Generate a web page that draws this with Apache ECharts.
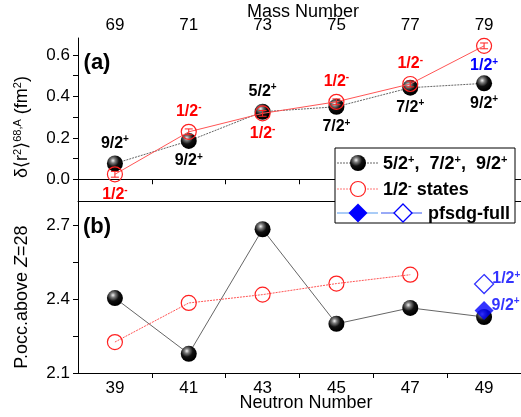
<!DOCTYPE html>
<html>
<head>
<meta charset="utf-8">
<script src="https://cdn.jsdelivr.net/npm/echarts@6/dist/echarts.min.js"></script>
<style>html,body{margin:0;padding:0;background:#fff}#c{width:521px;height:417px}</style>
</head>
<body>
<div id="c"></div>
<script>
// ---- data ----
const massNumber = [69, 71, 73, 75, 77, 79];
const neutronNumber = [39, 41, 43, 45, 47, 49];
const radiusBlack = [0.076, 0.185, 0.326, 0.350, 0.442, 0.463];
const radiusRed = [0.024, 0.229, 0.318, 0.374, 0.460, 0.644];
const radiusRedErr = [0.014, 0.014, 0.014, 0.014, 0.014, 0.014];
const occBlack = [2.405, 2.178, 2.685, 2.300, 2.365, 2.328];
const occRed = [2.226, 2.385, 2.419, 2.464, 2.500];
const occPfsdgFilled = [2.354];
const occPfsdgOpen = [2.462];
const spinBlack = ['9/2', '9/2', '5/2', '7/2', '7/2', '9/2'];
const spinRed = ['1/2', '1/2', '1/2', '1/2', '1/2', '1/2'];
const parityRed = ['-', '-', '-', '-', '-', '+'];
const massTicks = [69, 71, 73, 75, 77, 79];
const neutronTicks = [39, 41, 43, 45, 47, 49];
const yTopLabels = [0.0, 0.2, 0.4, 0.6];
const yBotLabels = [2.1, 2.4, 2.7];

const FONT = '"Liberation Sans", Arial, sans-serif';
const sphere = () => new echarts.graphic.RadialGradient(0.38, 0.32, 0.62, [
  {offset: 0, color: '#f4f4f4'}, {offset: 0.25, color: '#7a7a7a'},
  {offset: 0.6, color: '#111'}, {offset: 1, color: '#000'}]);

function supRich(color, size) {
  return {
    n: {fontFamily: FONT, fontWeight: 'bold', fontSize: size, color: color},
    s: {fontFamily: FONT, fontWeight: 'bold', fontSize: Math.round(size * 0.62), color: color, padding: [0, 0, Math.round(size * 0.5), 0]}
  };
}

const blackTopPos = ['top', 'bottom', 'top', 'bottom', 'bottom', 'bottom'];
const redTopPos = ['bottom', 'top', 'bottom', 'top', 'top', 'bottom'];

const blackTopData = massNumber.map((m, i) => ({
  value: [m, radiusBlack[i]],
  label: {show: true, position: blackTopPos[i], distance: 3,
    formatter: '{n|' + spinBlack[i] + '}{s|+}', rich: supRich('#000', 16)}
}));
const redTopData = massNumber.map((m, i) => {
  const col = parityRed[i] === '+' ? '#0000ff' : '#ff0000';
  return {
    value: [m, radiusRed[i]],
    label: {show: true, position: redTopPos[i], distance: 3,
      formatter: '{n|' + spinRed[i] + '}{s|' + parityRed[i] + '}', rich: supRich(col, 16)}
  };
});
const errData = massNumber.map((m, i) => [m, radiusRed[i], radiusRedErr[i]]);

const axisLineStyle = {show: true, lineStyle: {color: '#000', width: 1}};
const tickStyle = {lineStyle: {color: '#000', width: 1}, length: 5};
const labelStyle = {color: '#000', fontSize: 17, fontFamily: FONT};

const option = {
  animation: false,
  backgroundColor: '#fff',
  grid: [
    {left: 78, top: 38, width: 445, height: 163},
    {left: 78, top: 201, width: 445, height: 172}
  ],
  xAxis: [
    {gridIndex: 0, type: 'value', position: 'top', min: 68, max: 80,
      axisLine: axisLineStyle, splitLine: {show: false},
      axisTick: Object.assign({show: true, inside: true, customValues: [70, 72, 74, 76, 78]}, tickStyle),
      axisLabel: Object.assign({customValues: massTicks, margin: 4}, labelStyle)},
    {gridIndex: 0, type: 'value', position: 'bottom', min: 68, max: 80,
      axisLine: axisLineStyle, splitLine: {show: false}, axisTick: {show: false}, axisLabel: {show: false}},
    {gridIndex: 1, type: 'value', position: 'bottom', min: 38, max: 50,
      axisLine: axisLineStyle, splitLine: {show: false},
      axisTick: Object.assign({show: true, inside: false, customValues: [40, 42, 44, 46, 48]}, tickStyle),
      axisLabel: Object.assign({customValues: neutronTicks, margin: 7}, labelStyle)}
  ],
  yAxis: [
    {gridIndex: 0, type: 'value', min: -0.105, max: 0.682,
      axisLine: axisLineStyle, splitLine: {show: false},
      axisTick: Object.assign({show: true, inside: false, customValues: [0, 0.1, 0.2, 0.3, 0.4, 0.5, 0.6]}, tickStyle),
      axisLabel: Object.assign({customValues: yTopLabels, margin: 8, formatter: v => v.toFixed(1)}, labelStyle)},
    {gridIndex: 1, type: 'value', min: 2.1, max: 2.8,
      axisLine: axisLineStyle, splitLine: {show: false},
      axisTick: Object.assign({show: true, inside: false, customValues: [2.1, 2.25, 2.4, 2.55, 2.7]}, tickStyle),
      axisLabel: Object.assign({customValues: yBotLabels, margin: 8, formatter: v => v.toFixed(1)}, labelStyle)}
  ],
  series: [
    {type: 'line', xAxisIndex: 0, yAxisIndex: 0, data: blackTopData,
      symbol: 'circle', symbolSize: 16, lineStyle: {color: '#666', width: 1, type: [2, 1]},
      itemStyle: {color: sphere(), borderWidth: 0}, z: 3},
    {type: 'line', xAxisIndex: 0, yAxisIndex: 0, data: redTopData,
      symbol: 'circle', symbolSize: 15, lineStyle: {color: '#ff5555', width: 1},
      itemStyle: {color: 'rgba(255,255,255,0)', borderColor: '#ff2020', borderWidth: 1.2}, z: 4},
    {type: 'custom', xAxisIndex: 0, yAxisIndex: 0, data: errData, z: 5,
      renderItem: function (params, api) {
        const x = api.value(0), y = api.value(1), e = api.value(2);
        const a = api.coord([x, y + e]), b = api.coord([x, y - e]);
        const w = 4, st = {stroke: '#ff2020', lineWidth: 1, fill: null};
        return {type: 'group', children: [
          {type: 'line', shape: {x1: a[0], y1: a[1], x2: b[0], y2: b[1]}, style: st},
          {type: 'line', shape: {x1: a[0] - w, y1: a[1], x2: a[0] + w, y2: a[1]}, style: st},
          {type: 'line', shape: {x1: b[0] - w, y1: b[1], x2: b[0] + w, y2: b[1]}, style: st}
        ]};
      }},
    {type: 'line', xAxisIndex: 2, yAxisIndex: 1, data: neutronNumber.map((n, i) => [n, occBlack[i]]),
      symbol: 'circle', symbolSize: 16, lineStyle: {color: '#666', width: 1},
      itemStyle: {color: sphere(), borderWidth: 0}, z: 3},
    {type: 'line', xAxisIndex: 2, yAxisIndex: 1, data: neutronNumber.slice(0, occRed.length).map((n, i) => [n, occRed[i]]),
      symbol: 'circle', symbolSize: 15, lineStyle: {color: '#ff5555', width: 1, type: [2, 1]},
      itemStyle: {color: 'rgba(255,255,255,0)', borderColor: '#ff2020', borderWidth: 1.2}, z: 4},
    {type: 'scatter', xAxisIndex: 2, yAxisIndex: 1, data: [[49, occPfsdgFilled[0]]],
      symbol: 'diamond', symbolSize: [19, 19], itemStyle: {color: '#0000ff'}, z: 5,
      label: {show: true, position: 'right', distance: -2, offset: [0, -5],
        formatter: '{n|9/2}{s|+}', rich: supRich('#0000ff', 16)}},
    {type: 'scatter', xAxisIndex: 2, yAxisIndex: 1, data: [[49, occPfsdgOpen[0]]],
      symbol: 'diamond', symbolSize: [19, 19], itemStyle: {color: 'rgba(255,255,255,0)', borderColor: '#0000ff', borderWidth: 1.3}, z: 5,
      label: {show: true, position: 'right', distance: -2, offset: [0, -5],
        formatter: '{n|1/2}{s|+}', rich: supRich('#0000ff', 16)}}
  ],
  graphic: [
    {type: 'text', x: 303, y: 12, style: {text: 'Mass Number', font: '18px ' + FONT, fill: '#000', align: 'center', verticalAlign: 'middle'}},
    {type: 'text', x: 306, y: 403, style: {text: 'Neutron Number', font: '18px ' + FONT, fill: '#000', align: 'center', verticalAlign: 'middle'}},
    {type: 'text', x: 97, y: 63, style: {text: '(a)', font: 'bold 22px ' + FONT, fill: '#000', align: 'center', verticalAlign: 'middle'}},
    {type: 'text', x: 97, y: 227, style: {text: '(b)', font: 'bold 22px ' + FONT, fill: '#000', align: 'center', verticalAlign: 'middle'}},
    {type: 'text', x: 22, y: 127, rotation: Math.PI / 2,
      style: {text: '{a|δ⟨r}{s|2}{a|⟩}{s|68,A}{a| (fm}{s|2}{a|)}', align: 'center', verticalAlign: 'middle',
        rich: {a: {font: '18px ' + FONT, fill: '#000'}, s: {font: '11px ' + FONT, fill: '#000', padding: [0, 0, 9, 0]}}}},
    {type: 'text', x: 22, y: 297, rotation: Math.PI / 2,
      style: {text: '{a|P.occ.above }{i|Z}{a|=28}', align: 'center', verticalAlign: 'middle',
        rich: {a: {font: '18px ' + FONT, fill: '#000'}, i: {font: 'italic 18px ' + FONT, fill: '#000'}}}},
    // legend
    {type: 'group', z: 100, children: [
      {type: 'rect', shape: {x: 335, y: 148, width: 180, height: 75}, style: {fill: '#fff', stroke: '#000', lineWidth: 1}, z: 100},
      {type: 'line', shape: {x1: 337, y1: 163, x2: 378, y2: 163}, style: {stroke: '#666', lineWidth: 1, lineDash: [2, 1]}, z: 101},
      {type: 'circle', shape: {cx: 358, cy: 163, r: 8}, style: {fill: sphere()}, z: 102},
      {type: 'text', x: 383, y: 164, z: 102, style: {text: '{n|5/2}{s|+}{n|,  7/2}{s|+}{n|,  9/2}{s|+}', verticalAlign: 'middle', rich: {
        n: {font: 'bold 18px ' + FONT, fill: '#000'}, s: {font: 'bold 11px ' + FONT, fill: '#000', padding: [0, 0, 9, 0]}}}},
      {type: 'line', shape: {x1: 337, y1: 189, x2: 378, y2: 189}, style: {stroke: '#ff7777', lineWidth: 1, lineDash: [2, 1]}, z: 101},
      {type: 'circle', shape: {cx: 358, cy: 189, r: 7.5}, style: {fill: '#fff', stroke: '#ff2020', lineWidth: 1.2}, z: 102},
      {type: 'text', x: 383, y: 190, z: 102, style: {text: '{n|1/2}{s|-}{n| states}', verticalAlign: 'middle', rich: {
        n: {font: 'bold 18px ' + FONT, fill: '#000'}, s: {font: 'bold 11px ' + FONT, fill: '#000', padding: [0, 0, 9, 0]}}}},
      {type: 'line', shape: {x1: 337, y1: 213, x2: 378, y2: 213}, style: {stroke: '#5599ee', lineWidth: 1}, z: 101},
      {type: 'polygon', shape: {points: [[358, 203.5], [367.5, 213], [358, 222.5], [348.5, 213]]}, style: {fill: '#0000ff'}, z: 102},
      {type: 'line', shape: {x1: 381, y1: 213, x2: 422, y2: 213}, style: {stroke: '#3355ee', lineWidth: 1}, z: 101},
      {type: 'polygon', shape: {points: [[403, 204], [412, 213], [403, 222], [394, 213]]}, style: {fill: '#fff', stroke: '#0000ff', lineWidth: 1.3}, z: 102},
      {type: 'text', x: 428, y: 214, z: 102, style: {text: 'pfsdg-full', font: 'bold 18px ' + FONT, fill: '#000', verticalAlign: 'middle'}}
    ]}
  ]
};

const chart = echarts.init(document.getElementById('c'), null, {renderer: 'canvas'});
chart.setOption(option);
</script>
</body>
</html>
